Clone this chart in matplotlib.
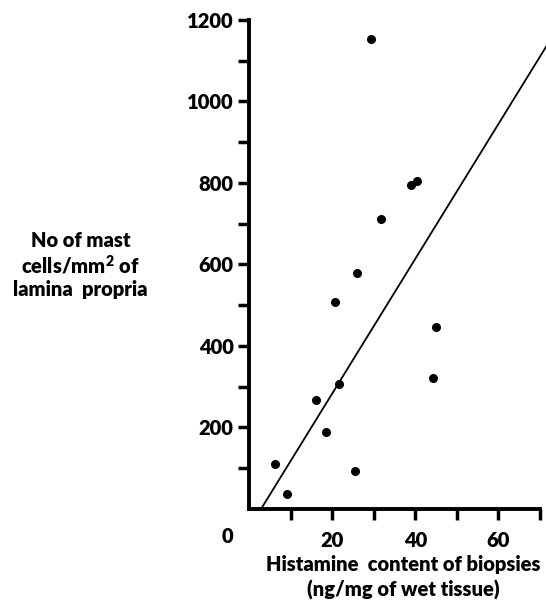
import matplotlib
matplotlib.use("Agg")
import matplotlib.pyplot as plt

# histamine (ng/mg wet tissue) vs mast cells per mm2 of lamina propria
histamine = [29.4, 40.3, 39.0, 31.7, 26.0, 20.8, 45.0, 44.3, 21.6, 16.2, 18.5, 6.2, 25.4, 9.2]
mast_cells = [1153, 805, 794, 711, 580, 509, 447, 321, 306, 268, 188, 110, 93, 36]

# regression line end points
line_x = [2.9, 71.5]
line_y = [0, 1135]

x_ticks = [10, 20, 30, 40, 50, 60, 70]
x_labels = ["", "20", "", "40", "", "60", ""]
y_ticks = [100, 200, 300, 400, 500, 600, 700, 800, 900, 1000, 1100, 1200]
y_labels = ["", "200", "", "400", "", "600", "", "800", "", "1000", "", "1200"]

plt.rcParams['font.family'] = ['Lato', 'DejaVu Sans']
plt.rcParams['font.weight'] = 'heavy'
plt.rcParams['mathtext.fontset'] = 'custom'
plt.rcParams['mathtext.rm'] = 'Lato:heavy'
plt.rcParams['mathtext.bf'] = 'Lato:heavy'

fig = plt.figure(figsize=(5.46, 6.02), dpi=100)
ax = fig.add_axes([0.456, 0.1545, 0.533, 0.8123])

ax.plot(line_x, line_y, color='black', lw=1.3, clip_on=False)
ax.scatter(histamine, mast_cells, s=30, color='black', zorder=3, clip_on=False)

ax.set_xlim(0, 70)
ax.set_ylim(0, 1200)
ax.set_xticks(x_ticks)
ax.set_xticklabels(x_labels)
ax.set_yticks(y_ticks)
ax.set_yticklabels(y_labels)

for side in ['top', 'right']:
    ax.spines[side].set_visible(False)
for side in ['left', 'bottom']:
    ax.spines[side].set_linewidth(2.8)
    ax.spines[side].set_capstyle('projecting')

ax.tick_params(axis='both', direction='out', length=8, width=2.5, labelsize=14.5, pad=3)
ax.tick_params(axis='x', pad=8)

ax.text(-5.3, -0.056, "0", transform=ax.get_xaxis_transform(), ha='center', va='center',
        fontsize=14.5, fontweight='heavy')

ax.text(0.53, -0.14, "Histamine  content of biopsies\n(ng/mg of wet tissue)",
        transform=ax.transAxes, ha='center', va='center', fontsize=14.5,
        fontweight='heavy', linespacing=1.4)

fig.text(0.147, 0.56, "No of mast\ncells/mm$^{2}$ of\nlamina  propria",
         ha='center', va='center', fontsize=14.5, fontweight='heavy', linespacing=1.2)

fig.savefig("out.png", dpi=100)
